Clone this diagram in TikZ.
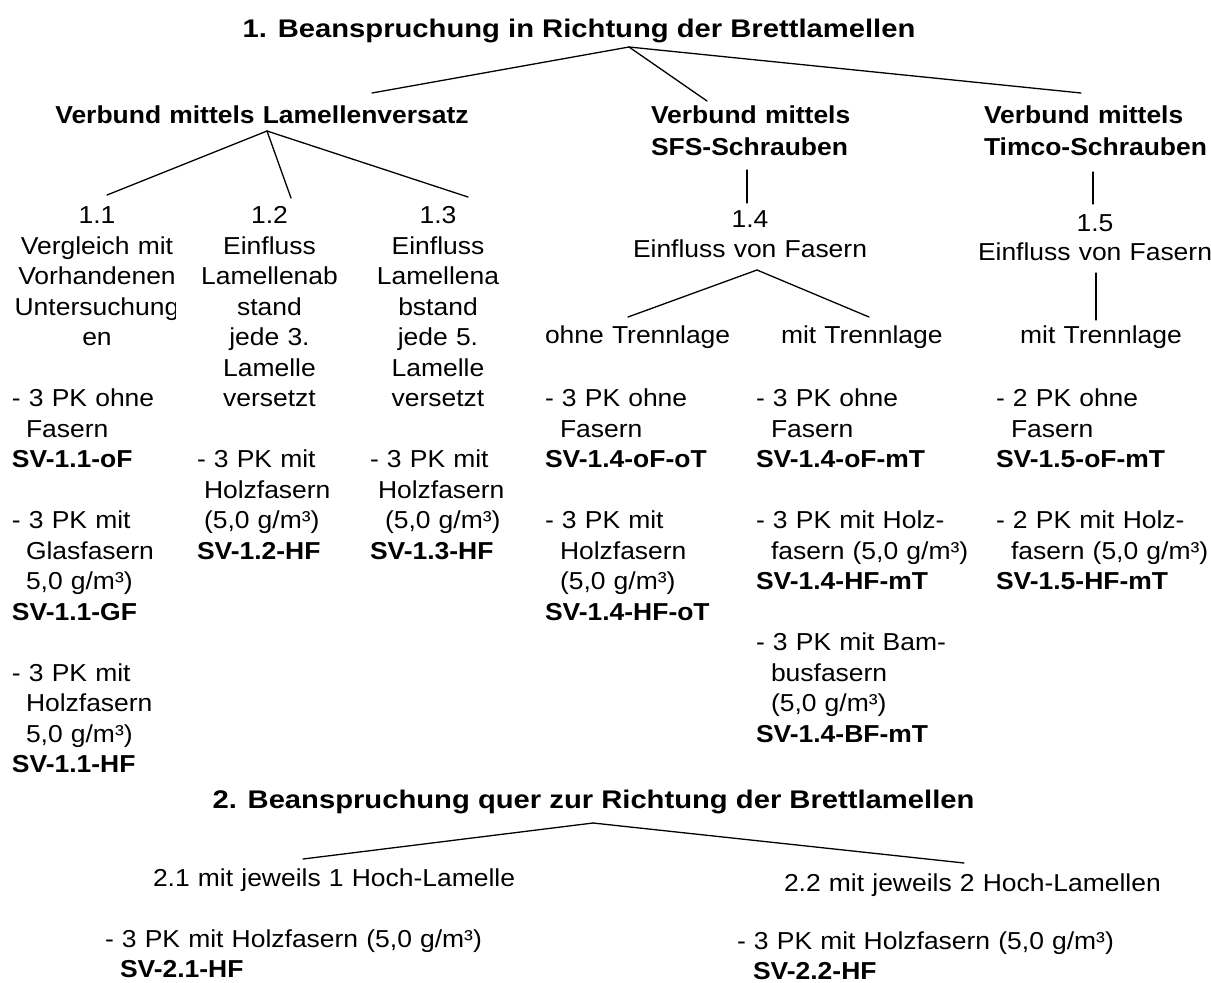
\documentclass[tikz,border=0pt]{standalone}
\usepackage{fontspec}
\setmainfont{Liberation Sans}
\newfontfamily\bodyfont{Liberation Sans}[FakeStretch=1.08]
\newfontfamily\titlefont{Liberation Sans}[FakeStretch=1.145]
\newcommand\ind[1][14pt]{\hspace*{#1}}
\newcommand\gapline{\\[30.5pt]}
\tikzset{
  body/.style={font=\bodyfont\fontsize{24.5}{30.5}\selectfont, inner sep=0pt, outer sep=0pt},
  cblock/.style={body, text width=460pt, align=center, anchor=base},
  lblock/.style={body, text width=440pt, align=left, anchor=base west},
  ttl/.style={font=\titlefont\bfseries\fontsize{25.5}{30}\selectfont, inner sep=0pt, outer sep=0pt, anchor=base},
  conn/.style={line width=1.3pt, line cap=round}
}
\begin{document}
\begin{tikzpicture}[x=1pt,y=-1pt]
\useasboundingbox (0,0) rectangle (1211,983);

% ---------- Part 1 ----------
\node[ttl] (title1) at (579,37) {1. Beanspruchung in Richtung der Brettlamellen};

\node[cblock, font=\bodyfont\bfseries\fontsize{24.5}{30.5}\selectfont] (subA) at (262,123) {Verbund mittels Lamellenversatz};
\node[lblock, font=\bodyfont\bfseries\fontsize{24.5}{32}\selectfont] (subB) at (651,123) {Verbund mittels\\SFS-Schrauben};
\node[lblock, font=\bodyfont\bfseries\fontsize{24.5}{32}\selectfont] (subC) at (984,123) {Verbund mittels\\Timco-Schrauben};

\coordinate (c1) at (629,47);
\coordinate (e1a) at (372,93);
\coordinate (e1b) at (707,101);
\coordinate (e1c) at (1081,93);
\draw[conn] (c1) -- (e1a);
\draw[conn] (c1) -- (e1b);
\draw[conn] (c1) -- (e1c);

% Lamellenversatz branches
\coordinate (cA) at (267,131);
\coordinate (eA1) at (107,195);
\coordinate (eA2) at (291,198);
\coordinate (eA3) at (468,197);
\draw[conn] (cA) -- (eA1);
\draw[conn] (cA) -- (eA2);
\draw[conn] (cA) -- (eA3);

\begin{scope}
\clip (0,190) rectangle (175,360);
\node[cblock] (c11) at (97,223.5) {1.1\\Vergleich mit\\Vorhandenen\\Untersuchung\\en};
\end{scope}
\node[cblock] (c12) at (269.5,223.5) {1.2\\Einfluss\\Lamellenab\\stand\\jede 3.\\Lamelle\\versetzt};
\node[cblock] (c13) at (438,223.5) {1.3\\Einfluss\\Lamellena\\bstand\\jede 5.\\Lamelle\\versetzt};

\node[lblock] (l11) at (12,406.5) {- 3 PK ohne\\\ind Fasern\\\textbf{SV-1.1-oF}\gapline
- 3 PK mit\\\ind Glasfasern\\\ind 5,0 g/m³)\\\textbf{SV-1.1-GF}\gapline
- 3 PK mit\\\ind Holzfasern\\\ind 5,0 g/m³)\\\textbf{SV-1.1-HF}};
\node[lblock] (l12) at (197,467.5) {- 3 PK mit\\\ind[7pt]Holzfasern\\\ind[7pt](5,0 g/m³)\\\textbf{SV-1.2-HF}};
\node[lblock] (l13) at (370,467.5) {- 3 PK mit\\\ind[8pt]Holzfasern\\\ind[15pt](5,0 g/m³)\\\textbf{SV-1.3-HF}};

% SFS branch
\coordinate (vBt) at (747,170);
\coordinate (vBb) at (747,203);
\draw[conn] (vBt) -- (vBb);
\node[cblock] (c14) at (750,227) {1.4\\Einfluss von Fasern};
\coordinate (c14a) at (757,270);
\coordinate (e14o) at (628,317);
\coordinate (e14m) at (869,317);
\draw[conn] (c14a) -- (e14o);
\draw[conn] (c14a) -- (e14m);
\node[lblock] (oT) at (545,343) {ohne Trennlage};
\node[lblock] (mT) at (781,343) {mit Trennlage};

\node[lblock] (loT) at (545,406.5) {- 3 PK ohne\\\ind[15pt]Fasern\\\textbf{SV-1.4-oF-oT}\gapline
- 3 PK mit\\\ind[15pt]Holzfasern\\\ind[15pt](5,0 g/m³)\\\textbf{SV-1.4-HF-oT}};
\node[lblock] (lmT) at (756,406.5) {- 3 PK ohne\\\ind[15pt]Fasern\\\textbf{SV-1.4-oF-mT}\gapline
- 3 PK mit Holz-\\\ind[15pt]fasern (5,0 g/m³)\\\textbf{SV-1.4-HF-mT}\gapline
- 3 PK mit Bam-\\\ind[15pt]busfasern\\\ind[15pt](5,0 g/m³)\\\textbf{SV-1.4-BF-mT}};

% Timco branch
\coordinate (vCt) at (1093,172);
\coordinate (vCb) at (1093,204);
\draw[conn] (vCt) -- (vCb);
\node[cblock, font=\bodyfont\fontsize{24.5}{29.5}\selectfont] (c15) at (1095,231) {1.5\\Einfluss von Fasern};
\coordinate (v15t) at (1096,273);
\coordinate (v15b) at (1096,320);
\draw[conn] (v15t) -- (v15b);
\node[cblock] (mT5) at (1101,343) {mit Trennlage};
\node[lblock] (lT5) at (996,406.5) {- 2 PK ohne\\\ind[15pt]Fasern\\\textbf{SV-1.5-oF-mT}\gapline
- 2 PK mit Holz-\\\ind[15pt]fasern (5,0 g/m³)\\\textbf{SV-1.5-HF-mT}};

% ---------- Part 2 ----------
\node[ttl] (title2) at (593.5,808) {2. Beanspruchung quer zur Richtung der Brettlamellen};
\coordinate (c2) at (593,823);
\coordinate (e21) at (303,859);
\coordinate (e22) at (964,863);
\draw[conn] (c2) -- (e21);
\draw[conn] (c2) -- (e22);
\node[lblock] (b21) at (153,886) {2.1 mit jeweils 1 Hoch-Lamelle};
\node[lblock] (b22) at (784,891) {2.2 mit jeweils 2 Hoch-Lamellen};
\node[lblock] (l21) at (105,947) {- 3 PK mit Holzfasern (5,0 g/m³)\\\ind[15pt]\textbf{SV-2.1-HF}};
\node[lblock] (l22) at (737,949) {- 3 PK mit Holzfasern (5,0 g/m³)\\\ind[16pt]\textbf{SV-2.2-HF}};
\end{tikzpicture}
\end{document}
